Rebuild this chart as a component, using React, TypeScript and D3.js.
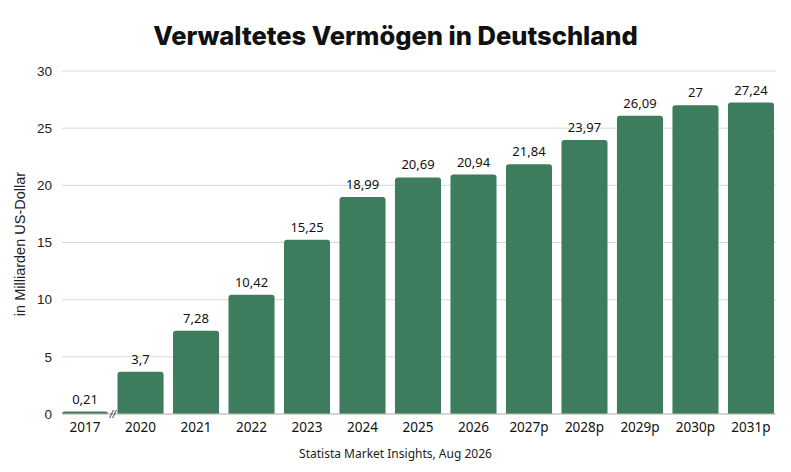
import React from "react";
import * as d3 from "d3";

const categories = ["2017", "2020", "2021", "2022", "2023", "2024", "2025", "2026", "2027p", "2028p", "2029p", "2030p", "2031p"];
const values = [0.21, 3.7, 7.28, 10.42, 15.25, 18.99, 20.69, 20.94, 21.84, 23.97, 26.09, 27, 27.24];
const yTicks = [0, 5, 10, 15, 20, 25, 30];

const W = 791;
const H = 472;
const left = 62;
const right = 774;
const top = 71;
const bottom = 414;
const barColor = "#3e7c5e";

function roundedTop(x: number, y: number, w: number, h: number, r: number) {
  const rr = Math.min(r, h, w / 2);
  return `M${x},${y + h}V${y + rr}Q${x},${y} ${x + rr},${y}H${x + w - rr}Q${x + w},${y} ${x + w},${y + rr}V${y + h}Z`;
}

export default function App() {
  const x = d3.scaleBand<string>().domain(categories).range([left, right]).paddingInner(0.17).paddingOuter(0);
  const y = d3.scaleLinear().domain([0, 30]).range([bottom, top]);
  const fmt = (v: number) => String(v).replace(".", ",");
  const bw = x.bandwidth();
  const breakX = (x("2017")! + bw + x("2020")!) / 2;

  return (
    <svg width={W} height={H} style={{ display: "block", position: "absolute", left: 0, top: 0 }}>
      <rect width={W} height={H} fill="#fff" />
      <text x={W / 2} y={45} textAnchor="middle" fontFamily="Inter, 'Noto Sans', sans-serif" fontWeight={800} fontSize={25.5} fill="#111">
        Verwaltetes Vermögen in Deutschland
      </text>
      {yTicks.map((t) => (
        <g key={t}>
          <line x1={left} x2={right + 2} y1={y(t)} y2={y(t)} stroke="#d9d9d9" strokeWidth={1} />
          <text x={52} y={y(t)} dy="0.35em" textAnchor="end" fontFamily="'Liberation Sans', Arial, sans-serif" fontSize={13.5} fill="#222">
            {t}
          </text>
        </g>
      ))}
      <text
        transform={`translate(25,244) rotate(-90)`}
        textAnchor="middle"
        fontFamily="'Liberation Sans', Arial, sans-serif"
        fontSize={14.5}
        fill="#222"
      >
        in Milliarden US-Dollar
      </text>
      {categories.map((c, i) => {
        const bx = x(c)!;
        const by = y(values[i]);
        const h = bottom - by;
        return (
          <g key={c}>
            <path d={roundedTop(bx, by, bw, h, 3)} fill={barColor} />
            <text x={bx + bw / 2} y={by - 8} textAnchor="middle" fontFamily="'Noto Sans', sans-serif" fontSize={13} fill="#111">
              {fmt(values[i])}
            </text>
            <text x={bx + bw / 2} y={bottom + 18} textAnchor="middle" fontFamily="'Noto Sans', sans-serif" fontSize={13.5} fill="#111">
              {c}
            </text>
          </g>
        );
      })}
      <line x1={left} x2={right + 2} y1={bottom} y2={bottom} stroke="#bfbfbf" strokeWidth={1} />
      <text x={breakX} y={bottom + 4} textAnchor="middle" fontFamily="'Liberation Sans', Arial, sans-serif" fontStyle="italic" fontSize={11} fill="#222">
        //
      </text>
      <text x={W / 2} y={458} textAnchor="middle" fontFamily="'Noto Sans', sans-serif" fontSize={12} fill="#222">
        Statista Market Insights, Aug 2026
      </text>
    </svg>
  );
}
